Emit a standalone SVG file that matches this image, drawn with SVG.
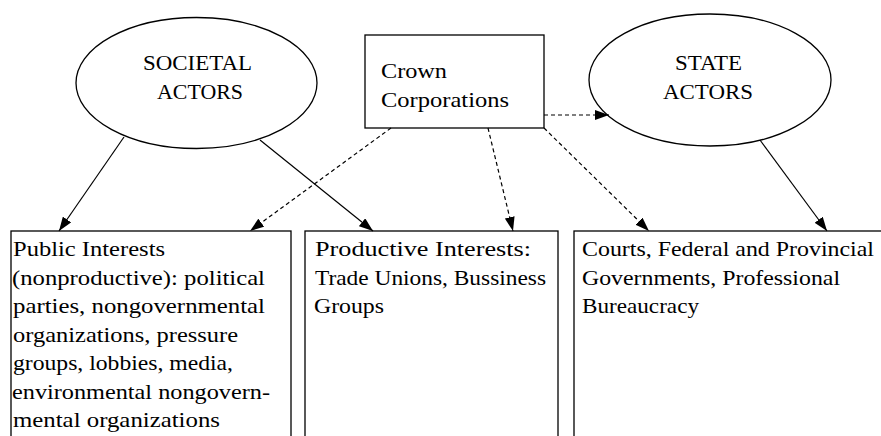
<svg xmlns="http://www.w3.org/2000/svg" width="881" height="436" viewBox="0 0 881 436">
<style>
.shape{fill:#fff;stroke:#000;stroke-width:1.3}
.t{font-family:"Liberation Serif","Times New Roman",serif;font-size:21px;fill:#000}
.c{text-anchor:middle}
.ln{stroke:#000;stroke-width:1.2;fill:none}
.d{stroke-dasharray:4,3}
</style>
<defs>
<marker id="ah" viewBox="0 0 14 10" refX="14" refY="5" markerWidth="14" markerHeight="10" markerUnits="userSpaceOnUse" orient="auto">
<path d="M0,0 L14,5 L0,10 Z" fill="#000"/>
</marker>
</defs>
<g id="societal">
<ellipse class="shape" cx="196.5" cy="83" rx="120.5" ry="65.5"/>
<text class="t c" x="197.5" y="70" textLength="109" lengthAdjust="spacingAndGlyphs">SOCIETAL</text>
<text class="t c" x="200" y="99" textLength="86" lengthAdjust="spacingAndGlyphs">ACTORS</text>
</g>
<g id="crown">
<rect class="shape" x="365" y="35" width="179" height="93"/>
<text class="t" x="381" y="78" textLength="66" lengthAdjust="spacingAndGlyphs">Crown</text>
<text class="t" x="381" y="107" textLength="128" lengthAdjust="spacingAndGlyphs">Corporations</text>
</g>
<g id="state">
<ellipse class="shape" cx="710" cy="80" rx="121" ry="66"/>
<text class="t c" x="708.5" y="70" textLength="67" lengthAdjust="spacingAndGlyphs">STATE</text>
<text class="t c" x="708" y="99" textLength="90" lengthAdjust="spacingAndGlyphs">ACTORS</text>
</g>
<g id="public">
<rect class="shape" x="11" y="231" width="280" height="220"/>
<text class="t" x="13" y="256" textLength="152" lengthAdjust="spacingAndGlyphs">Public Interests</text>
<text class="t" x="12" y="284.5" textLength="253" lengthAdjust="spacingAndGlyphs">(nonproductive): political</text>
<text class="t" x="13" y="313" textLength="252" lengthAdjust="spacingAndGlyphs">parties, nongovernmental</text>
<text class="t" x="13" y="341.5" textLength="225" lengthAdjust="spacingAndGlyphs">organizations, pressure</text>
<text class="t" x="13" y="370" textLength="220" lengthAdjust="spacingAndGlyphs">groups, lobbies, media,</text>
<text class="t" x="12" y="398.5" textLength="258" lengthAdjust="spacingAndGlyphs">environmental nongovern-</text>
<text class="t" x="13" y="427" textLength="207" lengthAdjust="spacingAndGlyphs">mental organizations</text>
</g>
<g id="productive">
<rect class="shape" x="305" y="231" width="253" height="220"/>
<text class="t" x="315" y="256" textLength="216" lengthAdjust="spacingAndGlyphs">Productive Interests:</text>
<text class="t" x="315" y="284.5" textLength="231" lengthAdjust="spacingAndGlyphs">Trade Unions, Bussiness</text>
<text class="t" x="314" y="313" textLength="70" lengthAdjust="spacingAndGlyphs">Groups</text>
</g>
<g id="courts">
<rect class="shape" x="574" y="231" width="320" height="220"/>
<text class="t" x="582" y="256" textLength="292" lengthAdjust="spacingAndGlyphs">Courts, Federal and Provincial</text>
<text class="t" x="582" y="284.5" textLength="258" lengthAdjust="spacingAndGlyphs">Governments, Professional</text>
<text class="t" x="582" y="313" textLength="117" lengthAdjust="spacingAndGlyphs">Bureaucracy</text>
</g>
<g id="connectors">
<line class="ln" x1="124" y1="137" x2="59" y2="231" marker-end="url(#ah)"/>
<line class="ln" x1="260" y1="140" x2="373" y2="231" marker-end="url(#ah)"/>
<line class="ln" x1="760" y1="140" x2="827" y2="231" marker-end="url(#ah)"/>
<line class="ln d" x1="391" y1="128" x2="250" y2="231" marker-end="url(#ah)"/>
<line class="ln d" x1="488" y1="128" x2="513" y2="231" marker-end="url(#ah)"/>
<line class="ln d" x1="544" y1="128" x2="649" y2="231" marker-end="url(#ah)"/>
<line class="ln d" x1="544" y1="115" x2="609" y2="115" marker-end="url(#ah)"/>
</g>
</svg>
